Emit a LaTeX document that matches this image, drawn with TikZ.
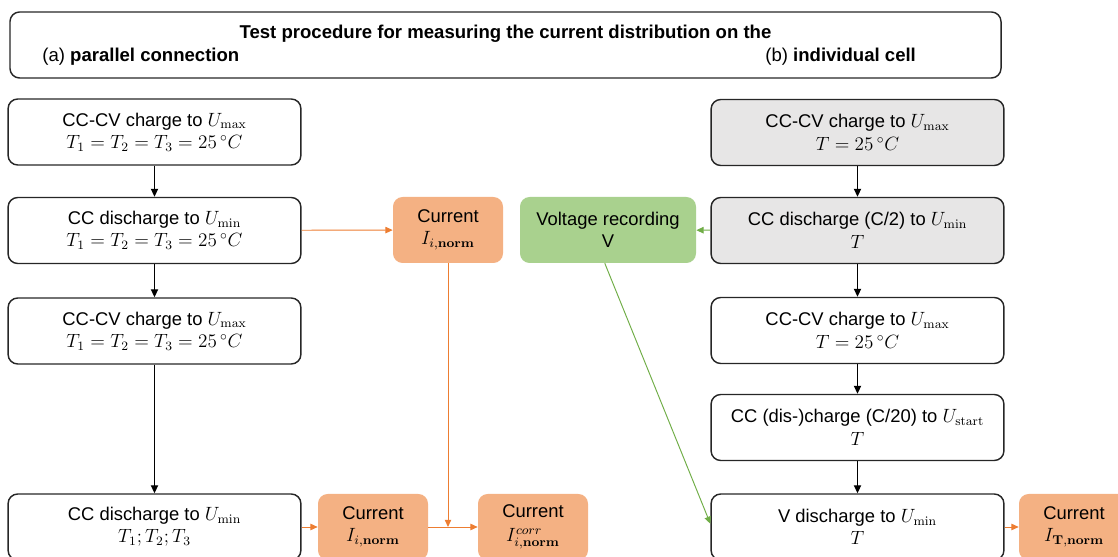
\documentclass[tikz,border=0pt]{standalone}
\usepackage[no-math]{fontspec}
\setmainfont{Liberation Sans}
\DeclareMathSizes{11.5}{12}{8}{6}
\usetikzlibrary{arrows.meta}
\definecolor{orfill}{HTML}{F4B183}
\definecolor{orline}{HTML}{ED7D31}
\definecolor{grfill}{HTML}{A9D18E}
\definecolor{grline}{HTML}{70AD47}
\definecolor{gyfill}{HTML}{E7E6E6}
\begin{document}
\begin{tikzpicture}[x=0.625pt,y=-0.625pt,
  base/.style={align=center, inner sep=0pt, font=\fontsize{11.5}{14}\selectfont},
  stepbox/.style={base, draw=black!85, line width=0.9pt, rounded corners=6pt,
    minimum width=183pt, minimum height=41.25pt},
  graybox/.style={stepbox, fill=gyfill},
  curbox/.style={base, fill=orfill, rounded corners=6pt, minimum width=68.75pt, minimum height=41.25pt},
  voltbox/.style={base, fill=grfill, rounded corners=6pt, minimum width=110pt, minimum height=41.25pt},
  hdrbox/.style={draw=black!85, line width=0.9pt, rounded corners=6pt, minimum width=619.4pt, minimum height=41.25pt, inner sep=0pt},
  hdrtext/.style={inner sep=0pt, font=\fontsize{11.6}{13}\selectfont},
  blackarrow/.style={-{Triangle[length=5pt,width=4.5pt]}, line width=0.8pt, black},
  orarrow/.style={-{Triangle[length=4.5pt,width=4pt]}, line width=0.6pt, orline},
  grarrow/.style={-{Triangle[length=4.5pt,width=4pt]}, line width=0.6pt, grline}]
\useasboundingbox (0,0) rectangle (1118,557);
\clip (0,0) rectangle (1118,557);
% header
\node[hdrbox] (hdr) at (505.5,45) {};
\node[hdrtext, font=\fontsize{11.6}{13}\selectfont\bfseries] (title) at (505.5,34) {Test procedure for measuring the current distribution on the};
\node[hdrtext, anchor=west] (la) at (42,57) {(a) \textbf{parallel connection}};
\node[hdrtext, anchor=west] (lb) at (765,57) {(b) \textbf{individual cell}};
% left column
\node[stepbox] (a1) at (154.5,132) {CC-CV charge to $U_{\mathrm{max}}$\\ $T_1=T_2=T_3=25\,^{\circ}C$};
\node[stepbox] (a2) at (154.5,230.5) {CC discharge to $U_{\mathrm{min}}$\\ $T_1=T_2=T_3=25\,^{\circ}C$};
\node[stepbox] (a3) at (154.5,331) {CC-CV charge to $U_{\mathrm{max}}$\\ $T_1=T_2=T_3=25\,^{\circ}C$};
\node[stepbox] (a4) at (154.5,527) {CC discharge to $U_{\mathrm{min}}$\\ $T_1;T_2;T_3$};
% middle
\node[curbox] (ci1) at (448,230) {Current\\ $I_{i,\mathbf{norm}}$};
\node[voltbox] (vr) at (608,230) {Voltage recording\\ V};
\node[curbox] (ci2) at (373,527) {Current\\ $I_{i,\mathbf{norm}}$};
\node[curbox, font=\fontsize{11.5}{15}\selectfont] (ci3) at (533,527) {Current\\ $I^{corr}_{i,\mathbf{norm}}$};
% right column
\node[graybox] (b1) at (857.5,132.5) {CC-CV charge to $U_{\mathrm{max}}$\\ $T=25\,^{\circ}C$};
\node[graybox] (b2) at (857.5,230.5) {CC discharge (C/2) to $U_{\mathrm{min}}$\\ $T$};
\node[stepbox] (b3) at (857.5,330.5) {CC-CV charge to $U_{\mathrm{max}}$\\ $T=25\,^{\circ}C$};
\node[stepbox] (b4) at (857.5,427.5) {CC (dis-)charge (C/20) to $U_{\mathrm{start}}$\\ $T$};
\node[stepbox] (b5) at (857.5,527) {V discharge to $U_{\mathrm{min}}$\\ $T$};
\node[curbox] (ci4) at (1074,527) {Current\\ $I_{\mathbf{T,norm}}$};
% connectors
\draw[blackarrow] (a1) -- (a2);
\draw[blackarrow] (a2) -- (a3);
\draw[blackarrow] (a3) -- (a4);
\draw[blackarrow] (b1) -- (b2);
\draw[blackarrow] (b2) -- (b3);
\draw[blackarrow] (b3) -- (b4);
\draw[blackarrow] (b4) -- (b5);
\draw[orarrow] (a2) -- (ci1);
\draw[orarrow] (a4) -- (ci2);
\draw[orarrow] (ci2) -- (ci3);
\draw[orarrow] (b5) -- (ci4);
\coordinate (join) at (ci1.south |- ci2.east);
\draw[orarrow] (ci1.south) -- (join);
\draw[grarrow] (b2) -- (vr);
\draw[grarrow] ([xshift=-2pt]vr.south) -- ([yshift=2pt]b5.west);
\end{tikzpicture}
\end{document}
